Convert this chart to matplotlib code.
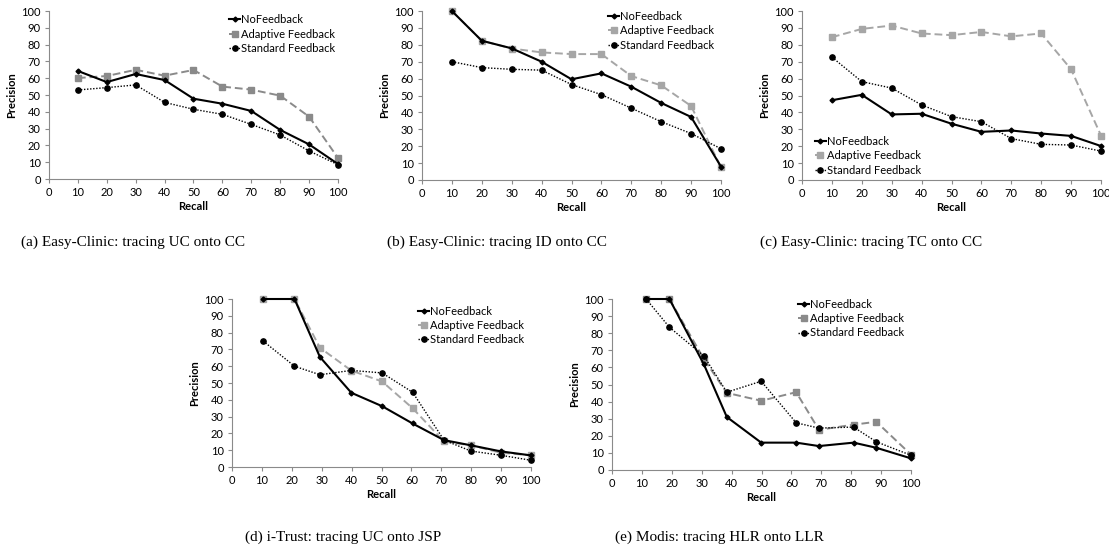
import matplotlib
matplotlib.use("Agg")
import matplotlib.pyplot as plt

recall = [10, 20, 30, 40, 50, 60, 70, 80, 90, 100]

# (a) Easy-Clinic UC -> CC
a_no = [64.3, 57.7, 62.5, 58.9, 47.8, 44.8, 40.5, 29.2, 20.6, 8.9]
a_ad = [60.1, 61.3, 65.0, 61.5, 64.9, 55.0, 53.2, 49.6, 37.1, 12.5]
a_st = [53.0, 54.4, 56.0, 45.6, 41.5, 38.5, 32.5, 26.2, 16.7, 8.5]

# (b) Easy-Clinic ID -> CC
b_no = [100, 82.4, 77.9, 70.0, 59.6, 63.1, 55.2, 45.6, 37.3, 7.9]
b_ad = [100, 82.4, 77.8, 75.5, 74.5, 74.5, 61.5, 56.0, 43.8, 7.5]
b_st = [70.0, 66.5, 65.5, 65.0, 56.5, 50.5, 42.5, 34.5, 27.5, 18.5]

# (c) Easy-Clinic TC -> CC
c_no = [47.2, 50.4, 38.8, 39.2, 33.3, 28.5, 29.3, 27.5, 26.1, 20.1]
c_ad = [84.5, 89.4, 91.4, 86.7, 85.7, 87.6, 85.0, 86.7, 65.5, 26.3]
c_st = [72.7, 58.2, 54.4, 44.4, 37.5, 34.5, 24.5, 21.1, 20.7, 17.1]

# (d) i-Trust UC -> JSP
d_x = [10.4, 20.9, 29.4, 39.9, 50.2, 60.4, 70.9, 79.9, 89.9, 100]
d_no = [100, 100, 65.5, 44.2, 36.2, 25.9, 16.0, 12.9, 9.3, 6.9]
d_ad = [100, 100, 71.0, 57.4, 50.9, 35.0, 15.2, 12.9, 8.5, 7.0]
d_st = [75.0, 60.0, 54.9, 57.5, 56.0, 44.5, 16.0, 9.5, 7.0, 4.0]

# (e) Modis HLR -> LLR
e_x = [11.4, 19.2, 30.7, 38.4, 49.9, 61.6, 69.2, 80.8, 88.4, 100]
e_no = [100, 100, 61.9, 31.0, 16.0, 16.0, 14.0, 16.0, 13.0, 6.8]
e_ad = [100, 100, 65.0, 45.1, 40.5, 45.5, 23.5, 26.5, 28.2, 9.0]
e_st = [100, 83.5, 66.7, 45.5, 51.9, 27.6, 24.5, 25.1, 16.5, 8.6]

ticks = list(range(0, 101, 10))
series_names = ["NoFeedback", "Adaptive Feedback", "Standard Feedback"]
captions = ["(a) Easy-Clinic: tracing UC onto CC",
            "(b) Easy-Clinic: tracing ID onto CC",
            "(c) Easy-Clinic: tracing TC onto CC",
            "(d) i-Trust: tracing UC onto JSP",
            "(e) Modis: tracing HLR onto LLR"]

W, H = 1109, 553
fig = plt.figure(figsize=(W / 100, H / 100), dpi=100)
FONT = "Lato"

def rect(l, r, b, t):
    return [l / W, 1 - b / H, (r - l) / W, (b - t) / H]

panels = [
    dict(pos=rect(49, 338, 179, 11), x=recall, d=(a_no, a_ad, a_st), adc="#8a8a8a",
         leg=(0.6, 1.02)),
    dict(pos=rect(422, 721, 180, 11), x=recall, d=(b_no, b_ad, b_st), adc="#a6a6a6",
         leg=(0.6, 1.04)),
    dict(pos=rect(802, 1101, 180, 11), x=recall, d=(c_no, c_ad, c_st), adc="#a6a6a6",
         leg=(0.02, 0.30)),
    dict(pos=rect(232, 531, 467, 299), x=d_x, d=(d_no, d_ad, d_st), adc="#a6a6a6",
         leg=(0.6, 1.0)),
    dict(pos=rect(612, 911, 470, 299), x=e_x, d=(e_no, e_ad, e_st), adc="#8a8a8a",
         leg=(0.6, 1.04)),
]

for p in panels:
    ax = fig.add_axes(p["pos"])
    no, ad, st = p["d"]
    ax.plot(p["x"], no, color="black", lw=1.5, ls="-", marker="D", ms=2.5,
            label=series_names[0], clip_on=False, zorder=3)
    ax.plot(p["x"], ad, color=p["adc"], lw=1.4, ls=(0, (4, 2)), marker="s", ms=4,
            label=series_names[1], clip_on=False, zorder=2)
    ax.plot(p["x"], st, color="black", lw=1.0, ls=(0, (1, 1.2)), marker="o", ms=3.8,
            label=series_names[2], clip_on=False, zorder=4)
    ax.set_xlim(0, 100)
    ax.set_ylim(0, 100)
    ax.set_xticks(ticks)
    ax.set_yticks(ticks)
    for s in ("top", "right"):
        ax.spines[s].set_visible(False)
    for s in ("left", "bottom"):
        ax.spines[s].set_color("#8a8a8a")
        ax.spines[s].set_linewidth(0.8)
    ax.tick_params(axis="both", length=3, width=0.8, color="#8a8a8a",
                   labelsize=8, pad=3)
    for lab in ax.get_xticklabels() + ax.get_yticklabels():
        lab.set_fontfamily(FONT)
    ax.set_xlabel("Recall", fontsize=8, fontweight="bold", family=FONT, labelpad=2)
    ax.set_ylabel("Precision", fontsize=8, fontweight="bold", family=FONT, labelpad=3)
    ax.legend(loc="upper left", bbox_to_anchor=p["leg"], frameon=False,
              prop=dict(family=FONT, size=8), handlelength=1.0, handletextpad=0.1,
              labelspacing=0.3, borderaxespad=0.2)

cap_pos = [(133, 242), (497, 242), (871, 242), (343, 537), (719, 537)]
for (cx, cy), txt in zip(cap_pos, captions):
    fig.text(cx / W, 1 - cy / H, txt, ha="center", va="center",
             family="Liberation Serif", fontsize=11)

fig.savefig("out.png", dpi=100)
